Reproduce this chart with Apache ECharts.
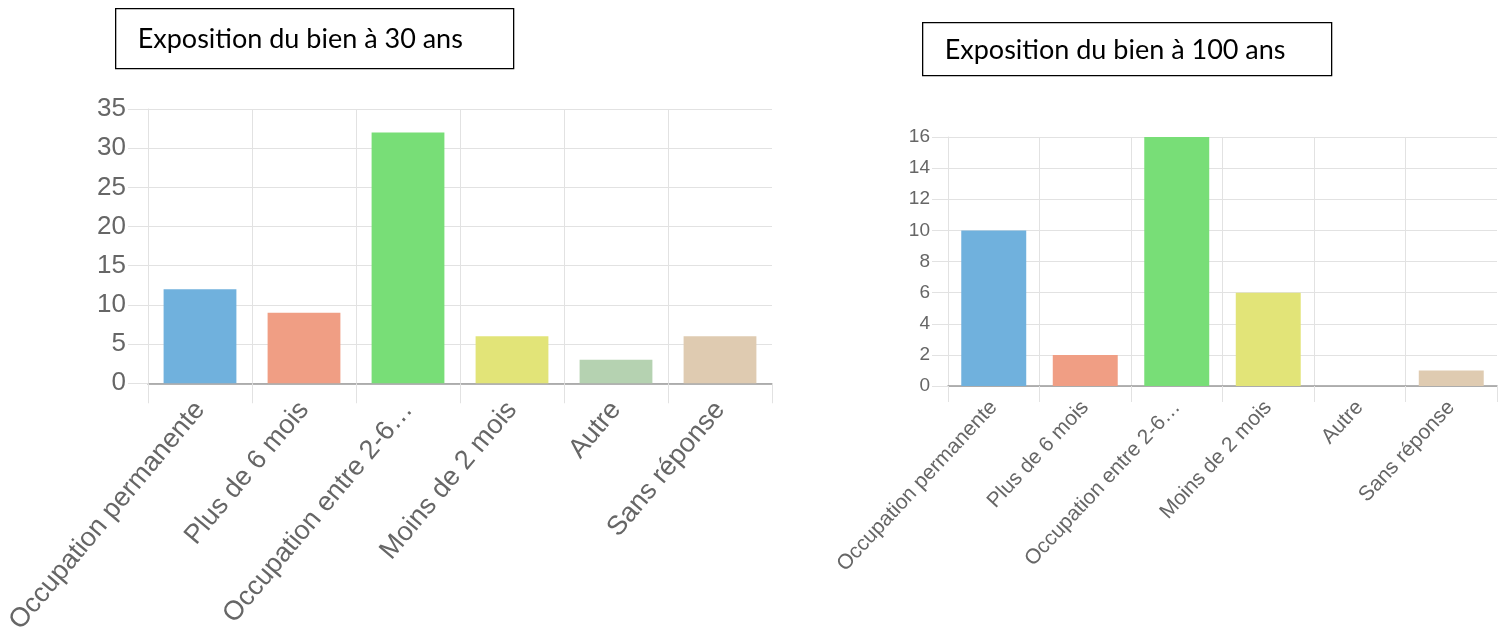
<!DOCTYPE html>
<html>
<head>
<meta charset="utf-8">
<script src="https://cdn.jsdelivr.net/npm/echarts@6/dist/echarts.min.js"></script>
<style>
  html, body { margin: 0; padding: 0; background: #fff; }
  #chart { width: 1505px; height: 637px; }
</style>
</head>
<body>
<div id="chart"></div>
<script>
// Categories shared by both charts
const categories = ['Occupation permanente', 'Plus de 6 mois', 'Occupation entre 2-6\u2026', 'Moins de 2 mois', 'Autre', 'Sans réponse'];
// Responses: exposure at 30 years and at 100 years
const values30 = [12, 9, 32, 6, 3, 6];
const values100 = [10, 2, 16, 6, 0, 1];
// One colour per category
const barColors = ['#70b1dd', '#f09e84', '#78de77', '#e2e478', '#b5d2b1', '#dfcbb1'];
const titles = ['Exposition du bien à 30 ans', 'Exposition du bien à 100 ans'];

const gridColor = '#e2e2e2';
const labelColor = '#666666';

function colored(values) {
  return values.map((v, i) => ({ value: v, itemStyle: { color: barColors[i] } }));
}

function xAxisFor(gridIndex, fontSize, rotate, tickLen, margin) {
  return {
    type: 'category', gridIndex, data: categories,
    axisLine: { lineStyle: { color: '#9a9a9a', width: 1.5 } },
    axisTick: { show: true, length: tickLen, interval: 0, lineStyle: { color: gridColor } },
    // category boundaries, without a closing line on the right edge
    splitLine: { show: true, interval: 0, showMaxLine: false, lineStyle: { color: gridColor } },
    axisLabel: { rotate, interval: 0, color: labelColor, fontFamily: 'Liberation Sans', fontSize, margin }
  };
}
function yAxisFor(gridIndex, max, interval, fontSize, tickLen, margin) {
  return {
    type: 'value', gridIndex, min: 0, max, interval,
    axisLine: { show: true, lineStyle: { color: gridColor } },
    axisTick: { show: true, length: tickLen, lineStyle: { color: gridColor } },
    splitLine: { show: true, lineStyle: { color: gridColor } },
    axisLabel: { color: labelColor, fontFamily: 'Liberation Sans', fontSize, margin }
  };
}
function titleBox(x, y, w, h, text, fontSize) {
  return {
    type: 'group', left: x, top: y,
    children: [
      { type: 'rect', shape: { x: 0, y: 0, width: w, height: h }, style: { fill: '#fff', stroke: '#000', lineWidth: 1.3 } },
      { type: 'text', x: 22, y: h / 2 + 1, style: { text, fill: '#000', font: fontSize + 'px Lato', textVerticalAlign: 'middle' } }
    ]
  };
}

const chart = echarts.init(document.getElementById('chart'), null, { renderer: 'canvas' });
chart.setOption({
  animation: false,
  grid: [
    { left: 148, right: 733, top: 109, bottom: 252 },
    { left: 948, right: 8, top: 137, bottom: 251 }
  ],
  xAxis: [xAxisFor(0, 27, 50, 20, 22), xAxisFor(1, 21, 47, 16, 18)],
  yAxis: [yAxisFor(0, 35, 5, 26, 20, 22), yAxisFor(1, 16, 2, 19, 16, 18)],
  series: [
    { type: 'bar', xAxisIndex: 0, yAxisIndex: 0, data: colored(values30), barCategoryGap: '30%' },
    { type: 'bar', xAxisIndex: 1, yAxisIndex: 1, data: colored(values100), barCategoryGap: '29%' }
  ],
  graphic: [
    titleBox(115, 8, 398, 60, titles[0], 27),
    titleBox(922, 22, 409, 53, titles[1], 27)
  ]
});
</script>
</body>
</html>
